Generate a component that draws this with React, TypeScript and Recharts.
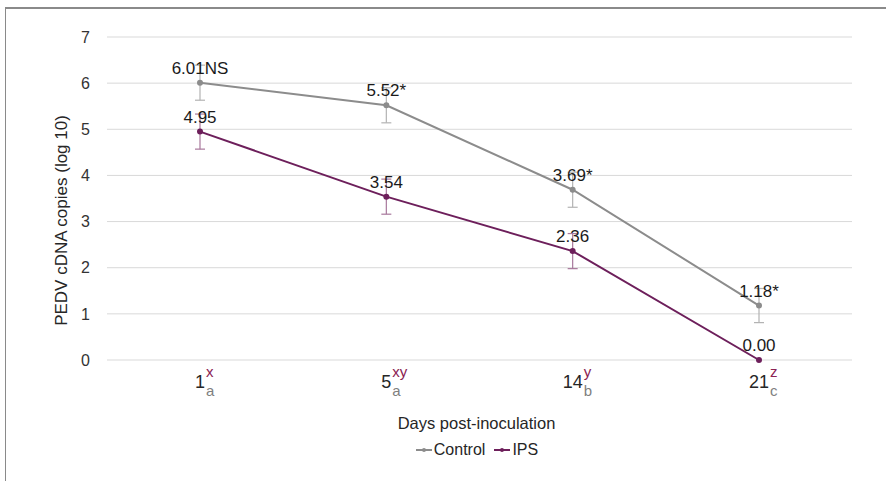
import { LineChart, Line, XAxis, YAxis, CartesianGrid, Legend, ErrorBar, LabelList, Label } from "recharts"

const days = ["1", "5", "14", "21"]
const dayLetters = ["a", "a", "b", "c"]
const groupLetters = ["x", "xy", "y", "z"]
const controlValues = [6.01, 5.52, 3.69, 1.18]
const controlErrors = [0.38, 0.38, 0.38, 0.37]
const controlMarks = ["NS", "*", "*", "*"]
const ipsValues = [4.95, 3.54, 2.36, 0.0]
const ipsErrors = [0.38, 0.38, 0.38, 0]
const yTicks = [0, 1, 2, 3, 4, 5, 6, 7]

const CONTROL = "#8c8c8c"
const CONTROL_ERR = "#b3b3b3"
const IPS = "#6d1f5b"
const IPS_ERR = "#a8789c"
const FONT = "'Liberation Sans', Arial, sans-serif"

const data = days.map((d, i) => ({
  day: d,
  control: controlValues[i],
  controlErr: controlErrors[i],
  controlLabel: controlValues[i].toFixed(2) + controlMarks[i],
  ips: ipsValues[i],
  ipsErr: ipsErrors[i],
  ipsLabel: ipsValues[i].toFixed(2),
}))

function DayTick({ x, y, payload, index }: any) {
  const num = String(payload.value)
  const half = num.length * 5
  return (
    <g>
      <text x={x} y={y + 28} textAnchor="middle" fontSize={18} fill="#262626" fontFamily={FONT}>
        {num}
      </text>
      <text x={x + half + 1} y={y + 36} fontSize={15} fill="#7f7f7f" fontFamily={FONT}>
        {dayLetters[index]}
      </text>
      <text x={x + half + 1} y={y + 17} fontSize={15} fill="#8b2252" fontFamily={FONT}>
        {groupLetters[index]}
      </text>
    </g>
  )
}

function LegendContent({ payload }: any) {
  return (
    <div style={{ display: "flex", justifyContent: "center", gap: 8, fontFamily: FONT, fontSize: 16, color: "#262626" }}>
      {(payload || []).map((p: any) => (
        <span key={p.value} style={{ display: "flex", alignItems: "center" }}>
          <svg width={18} height={10} style={{ marginRight: 1 }}>
            <line x1={1} y1={5} x2={17} y2={5} stroke={p.color} strokeWidth={2} />
            <circle cx={9} cy={5} r={2} fill={p.color} />
          </svg>
          {p.value}
        </span>
      ))}
    </div>
  )
}

export default function App() {
  return (
    <div style={{ position: "absolute", left: 0, top: 0, width: 886, height: 481, background: "#fff" }}>
      <div
        style={{
          position: "absolute",
          left: 5,
          top: 7,
          right: 0,
          bottom: 0,
          borderLeft: "1px solid #8a8a8a",
          borderTop: "2px solid #8a8a8a",
        }}
      />
      <LineChart width={886} height={481} data={data} margin={{ top: 37, right: 34, bottom: 81, left: 0 }}>
        <CartesianGrid vertical={false} stroke="#d9d9d9" />
        <XAxis
          dataKey="day"
          height={40}
          axisLine={false}
          tickLine={false}
          tickSize={0}
          tickMargin={0}
          padding={{ left: 93, right: 93 }}
          tick={<DayTick />}
          interval={0}
        >
          <Label
            content={({ viewBox }: any) => (
              <text
                x={viewBox.x + viewBox.width / 2 - 3}
                y={viewBox.y + 69}
                textAnchor="middle"
                fontSize={16.5}
                fill="#262626"
                fontFamily={FONT}
              >
                Days post-inoculation
              </text>
            )}
          />
        </XAxis>
        <YAxis
          width={107}
          domain={[0, 7]}
          ticks={yTicks}
          axisLine={false}
          tickLine={false}
          tickSize={0}
          tickMargin={17}
          tick={{ fontSize: 16, fill: "#333333", fontFamily: FONT }}
        >
          <Label
            content={({ viewBox }: any) => (
              <text
                x={61}
                y={viewBox.y + viewBox.height / 2 + 22}
                transform={`rotate(-90, 61, ${viewBox.y + viewBox.height / 2 + 22})`}
                textAnchor="middle"
                dominantBaseline="central"
                fontSize={17}
                fill="#262626"
                fontFamily={FONT}
              >
                PEDV cDNA copies (log 10)
              </text>
            )}
          />
        </YAxis>
        <Legend
          verticalAlign="middle"
          align="center"
          content={<LegendContent />}
          wrapperStyle={{ position: "absolute", top: 441, left: 104, width: 745 }}
        />
        <Line
          dataKey="control"
          name="Control"
          stroke={CONTROL}
          strokeWidth={2}
          dot={{ r: 2, fill: CONTROL, stroke: CONTROL }}
          isAnimationActive={false}
        >
          <ErrorBar dataKey="controlErr" width={5} stroke={CONTROL_ERR} strokeWidth={1.2} />
          <LabelList dataKey="controlLabel" position="top" offset={9} fontSize={17} fill="#1a1a1a" fontFamily={FONT} />
        </Line>
        <Line
          dataKey="ips"
          name="IPS"
          stroke={IPS}
          strokeWidth={2}
          dot={{ r: 2, fill: IPS, stroke: IPS }}
          isAnimationActive={false}
        >
          <ErrorBar dataKey="ipsErr" width={5} stroke={IPS_ERR} strokeWidth={1.2} />
          <LabelList dataKey="ipsLabel" position="top" offset={9} fontSize={17} fill="#1a1a1a" fontFamily={FONT} />
        </Line>
      </LineChart>
    </div>
  )
}
